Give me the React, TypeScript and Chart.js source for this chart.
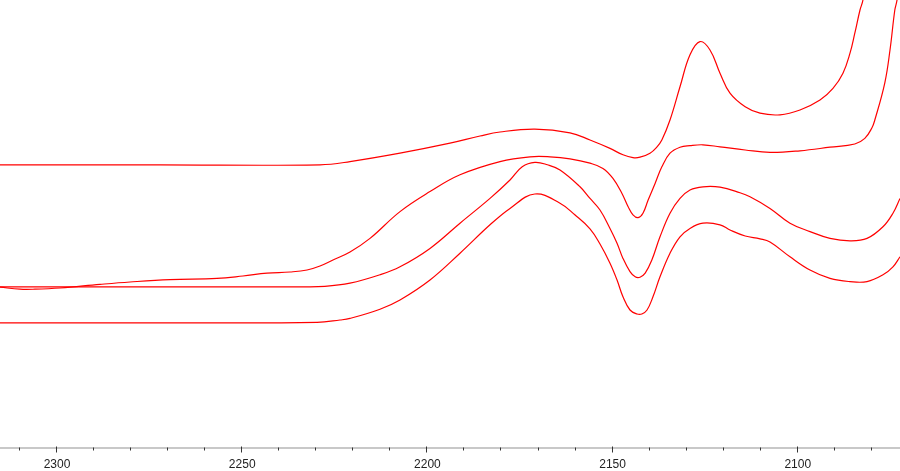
import React, { useEffect, useRef } from "react";
import { Chart, registerables } from "chart.js";

Chart.register(...registerables);

// Wavenumber axis (cm-1), shown reversed
const X_MIN = 2072.4;
const X_MAX = 2315.4;
const MAJOR_TICKS = [2300, 2250, 2200, 2150, 2100];

// Spectrum A (top)
const waveA = [2315.4, 2272.2, 2229.0, 2220.9, 2207.4, 2193.9, 2185.8, 2180.4, 2171.0, 2161.5, 2156.1, 2150.7, 2147.2, 2144.5, 2142.6, 2139.9, 2138.0, 2136.7, 2134.5, 2131.8, 2129.1, 2126.4, 2123.7, 2121.0, 2118.3, 2114.2, 2110.2, 2104.8, 2099.4, 2094.0, 2090.5, 2087.8, 2085.9, 2084.6, 2083.2, 2082.4, 2081.6];
const absA = [0.708, 0.708, 0.708, 0.716, 0.737, 0.762, 0.780, 0.790, 0.797, 0.788, 0.770, 0.749, 0.733, 0.726, 0.727, 0.737, 0.753, 0.770, 0.820, 0.903, 0.983, 1.016, 0.995, 0.937, 0.887, 0.853, 0.837, 0.833, 0.845, 0.870, 0.899, 0.937, 0.987, 1.037, 1.095, 1.120, 1.183];

// Spectrum B
const waveB = [2315.4, 2310.0, 2306.0, 2299.2, 2288.4, 2280.3, 2269.5, 2256.8, 2249.8, 2243.3, 2237.1, 2232.5, 2229.0, 2225.5, 2220.9, 2215.5, 2207.4, 2199.3, 2191.2, 2180.4, 2172.3, 2166.9, 2161.5, 2156.1, 2152.6, 2149.9, 2147.5, 2145.8, 2144.5, 2143.1, 2141.8, 2140.4, 2138.5, 2136.7, 2134.5, 2131.8, 2129.1, 2125.6, 2121.0, 2114.2, 2107.5, 2099.4, 2091.3, 2084.6, 2081.9, 2080.0, 2079.2, 2076.5, 2075.1, 2073.8, 2073.2, 2072.7];
const absB = [0.402, 0.397, 0.397, 0.400, 0.409, 0.415, 0.421, 0.424, 0.430, 0.437, 0.440, 0.445, 0.455, 0.470, 0.490, 0.524, 0.591, 0.641, 0.683, 0.716, 0.728, 0.728, 0.723, 0.712, 0.699, 0.674, 0.637, 0.603, 0.583, 0.576, 0.587, 0.620, 0.662, 0.703, 0.737, 0.752, 0.756, 0.758, 0.753, 0.745, 0.739, 0.743, 0.752, 0.760, 0.774, 0.800, 0.820, 0.913, 0.995, 1.095, 1.120, 1.170];

// Spectrum C
const waveC = [2315.4, 2272.2, 2234.4, 2227.7, 2220.9, 2212.8, 2207.4, 2199.3, 2191.2, 2183.1, 2177.7, 2174.4, 2171.0, 2167.6, 2164.2, 2158.8, 2156.1, 2153.4, 2150.7, 2148.8, 2147.2, 2145.3, 2143.9, 2142.6, 2141.2, 2139.4, 2137.2, 2134.5, 2131.8, 2129.1, 2125.6, 2121.0, 2115.6, 2112.9, 2107.5, 2102.1, 2096.7, 2091.3, 2085.9, 2081.3, 2077.0, 2074.3, 2072.4];
const absC = [0.403, 0.403, 0.403, 0.404, 0.412, 0.433, 0.453, 0.499, 0.562, 0.624, 0.670, 0.703, 0.714, 0.708, 0.695, 0.653, 0.624, 0.595, 0.549, 0.512, 0.474, 0.441, 0.428, 0.427, 0.437, 0.470, 0.528, 0.587, 0.624, 0.645, 0.653, 0.652, 0.638, 0.628, 0.599, 0.562, 0.541, 0.524, 0.518, 0.524, 0.553, 0.587, 0.624];

// Spectrum D (bottom)
const waveD = [2315.4, 2272.2, 2229.8, 2223.6, 2220.9, 2212.8, 2207.4, 2199.3, 2191.2, 2183.1, 2177.7, 2171.0, 2164.2, 2160.2, 2156.1, 2153.4, 2150.7, 2148.8, 2147.2, 2145.3, 2143.4, 2142.1, 2140.7, 2139.1, 2137.2, 2134.5, 2131.8, 2129.1, 2125.6, 2121.0, 2118.3, 2114.2, 2110.2, 2107.5, 2102.1, 2096.7, 2091.3, 2085.9, 2081.3, 2077.0, 2074.3, 2072.4];
const absD = [0.313, 0.313, 0.314, 0.320, 0.324, 0.347, 0.370, 0.420, 0.487, 0.558, 0.599, 0.635, 0.612, 0.583, 0.548, 0.510, 0.462, 0.420, 0.378, 0.345, 0.335, 0.335, 0.345, 0.378, 0.428, 0.487, 0.528, 0.549, 0.562, 0.558, 0.545, 0.530, 0.523, 0.515, 0.478, 0.445, 0.424, 0.416, 0.416, 0.433, 0.453, 0.478];

const toPoints = (xs: number[], ys: number[]) => xs.map((x, i) => ({ x, y: ys[i] }));

const tickPlugin = {
  id: "customTicks",
  afterDraw(chart: any) {
    const scale = chart.scales.x;
    const ctx = chart.ctx;
    const top = scale.top;
    ctx.save();
    ctx.strokeStyle = "#333333";
    ctx.lineWidth = 1;
    for (const t of scale.ticks) {
      const v = t.value;
      const px = Math.round(scale.getPixelForValue(v)) - 0.5;
      const major = MAJOR_TICKS.includes(v);
      ctx.beginPath();
      ctx.moveTo(px, major ? top - 1.5 : top - 0.5);
      ctx.lineTo(px, major ? top + 4.5 : top + 2.5);
      ctx.stroke();
    }
    ctx.restore();
  },
};

export default function App() {
  const ref = useRef<HTMLCanvasElement | null>(null);

  useEffect(() => {
    if (!ref.current) return;
    const line = (xs: number[], ys: number[]) => ({
      data: toPoints(xs, ys),
      borderColor: "#ff0000",
      borderWidth: 1.2,
      pointRadius: 0,
      fill: false,
      tension: 0.4,
    });
    const chart = new Chart(ref.current, {
      type: "line",
      data: {
        datasets: [line(waveA, absA), line(waveB, absB), line(waveC, absC), line(waveD, absD)],
      },
      options: {
        animation: false,
        responsive: false,
        devicePixelRatio: 1,
        layout: { padding: 0 },
        plugins: { legend: { display: false }, tooltip: { enabled: false } },
        scales: {
          x: {
            type: "linear",
            reverse: true,
            min: X_MIN,
            max: X_MAX,
            afterBuildTicks: (scale: any) => {
              const ticks = [];
              for (let v = 2080; v <= 2310; v += 10) ticks.push({ value: v });
              scale.ticks = ticks;
            },
            afterFit: (scale: any) => {
              scale.height = 23;
            },
            grid: { display: false },
            border: { display: true, color: "#c8c8c8", width: 2 },
            ticks: {
              autoSkip: false,
              maxRotation: 0,
              padding: 1,
              color: "#222222",
              font: { family: "'Liberation Sans', Arial, sans-serif", size: 12 },
              callback: (v: any) => (MAJOR_TICKS.includes(Number(v)) ? String(v) : ""),
            },
          },
          y: {
            display: false,
            min: 0,
            max: 1.12,
          },
        },
      },
      plugins: [tickPlugin],
    });
    return () => chart.destroy();
  }, []);

  return (
    <div style={{ position: "fixed", left: 0, top: 0, width: 900, height: 471, background: "#ffffff" }}>
      <canvas ref={ref} width={900} height={471} />
    </div>
  );
}
